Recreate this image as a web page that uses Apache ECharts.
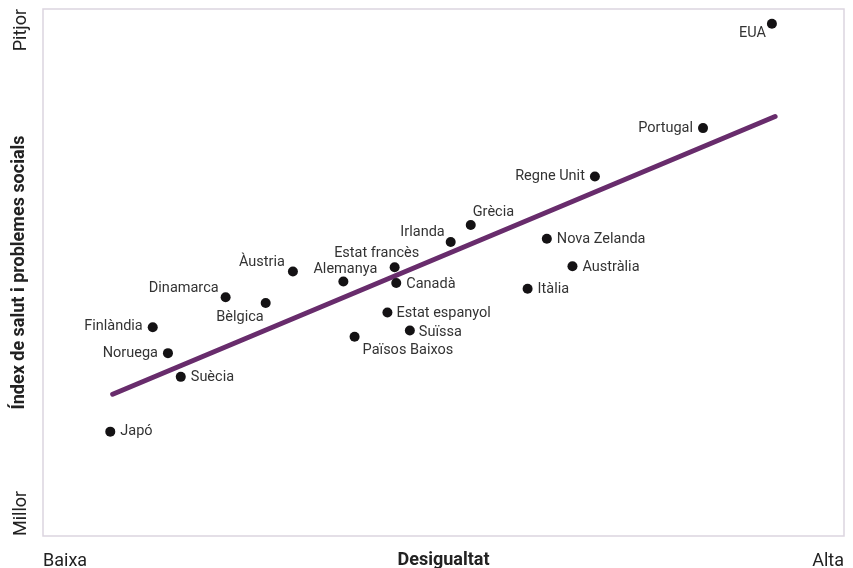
<!DOCTYPE html>
<html>
<head>
<meta charset="utf-8">
<script src="https://cdn.jsdelivr.net/npm/echarts@6/dist/echarts.min.js"></script>
<style>
html,body{margin:0;padding:0;background:#fff;}
#chart{width:853px;height:568px;}
</style>
</head>
<body>
<div id="chart"></div>
<script>
// Data (relative scale 0–100 on both axes)
var countries = ['EUA','Portugal','Regne Unit','Grècia','Irlanda','Nova Zelanda','Austràlia','Itàlia','Estat francès','Canadà','Alemanya','Àustria','Estat espanyol','Suïssa','Països Baixos','Bèlgica','Dinamarca','Finlàndia','Noruega','Suècia','Japó'];
var inequality = [91.0, 82.4, 68.9, 53.4, 50.9, 62.9, 66.1, 60.5, 43.9, 44.1, 37.5, 31.2, 43.0, 45.8, 38.9, 27.8, 22.8, 13.7, 15.6, 17.2, 8.4];
var healthIndex = [97.2, 77.4, 68.2, 59.0, 55.8, 56.4, 51.2, 46.9, 51.0, 48.0, 48.3, 50.2, 42.4, 39.0, 37.8, 44.2, 45.3, 39.6, 34.7, 30.2, 19.8];
var trendX = [8.7, 91.4];
var trendY = [26.9, 79.6];
var xTickLabels = ['Baixa', 'Alta'];
var yTickLabels = ['Millor', 'Pitjor'];

// label placement (offset from dot centre, px) — style only
var labelPlace = {
  'EUA': [-6, 10, 'right'],
  'Portugal': [-10, 0, 'right'],
  'Regne Unit': [-10, 0, 'right'],
  'Grècia': [2, -13, 'left'],
  'Irlanda': [-6, -10, 'right'],
  'Nova Zelanda': [10, 1, 'left'],
  'Austràlia': [10, 1, 'left'],
  'Itàlia': [10, 1, 'left'],
  'Estat francès': [-18, -14, 'center'],
  'Canadà': [10, 1, 'left'],
  'Alemanya': [2, -12, 'center'],
  'Àustria': [-8, -9, 'right'],
  'Estat espanyol': [9, 1, 'left'],
  'Suïssa': [9, 1.5, 'left'],
  'Països Baixos': [8, 14, 'left'],
  'Bèlgica': [-2, 14, 'right'],
  'Dinamarca': [-7, -9, 'right'],
  'Finlàndia': [-10, -1, 'right'],
  'Noruega': [-10, 0, 'right'],
  'Suècia': [10, 1, 'left'],
  'Japó': [10, 0, 'left']
};

var FONT = 'Roboto, "DejaVu Sans", sans-serif';
var SYM = 10;

var points = countries.map(function (c, i) {
  var p = labelPlace[c];
  return {
    name: c,
    value: [inequality[i], healthIndex[i]],
    label: {
      show: true,
      formatter: c,
      position: [SYM / 2 + p[0], SYM / 2 + p[1]],
      align: p[2],
      verticalAlign: 'middle'
    }
  };
});

var chart = echarts.init(document.getElementById('chart'), null, {renderer: 'canvas'});
chart.setOption({
  animation: false,
  backgroundColor: '#ffffff',
  grid: {
    left: 43, right: 9, top: 9, bottom: 32,
    containLabel: false, outerBoundsMode: 'none',
    show: true, borderColor: '#dcd5e0', borderWidth: 1.5, backgroundColor: 'transparent'
  },
  xAxis: {
    type: 'value', min: 0, max: 100, interval: 100,
    axisLine: {show: false}, axisTick: {show: false}, splitLine: {show: false},
    axisLabel: {
      margin: 25, fontSize: 18, color: '#222', fontFamily: FONT,
      verticalAlign: 'middle',
      alignMinLabel: 'left', alignMaxLabel: 'right',
      formatter: function (v) { return v === 0 ? xTickLabels[0] : xTickLabels[1]; }
    },
    name: 'Desigualtat', nameLocation: 'middle', nameGap: 24, nameMoveOverlap: false,
    nameTextStyle: {fontSize: 18, fontWeight: 'bold', color: '#222', fontFamily: FONT, verticalAlign: 'middle'}
  },
  yAxis: {
    type: 'value', min: 0, max: 100, interval: 100,
    axisLine: {show: false}, axisTick: {show: false}, splitLine: {show: false},
    axisLabel: {
      rotate: 90, margin: 22, fontSize: 18, color: '#222', fontFamily: FONT,
      verticalAlign: 'middle',
      alignMinLabel: 'left', alignMaxLabel: 'right',
      formatter: function (v) { return v === 0 ? yTickLabels[0] : yTickLabels[1]; }
    },
    name: 'Índex de salut i problemes socials', nameLocation: 'middle', nameGap: 24, nameMoveOverlap: false,
    nameTextStyle: {fontSize: 18, fontWeight: 'bold', color: '#222', fontFamily: FONT, verticalAlign: 'middle'}
  },
  series: [
    {
      type: 'line',
      data: [[trendX[0], trendY[0]], [trendX[1], trendY[1]]],
      symbol: 'none',
      lineStyle: {color: '#682c6c', width: 5, cap: 'round'},
      silent: true,
      z: 1
    },
    {
      type: 'scatter',
      data: points,
      symbol: 'circle',
      symbolSize: SYM,
      itemStyle: {color: '#141214', opacity: 1},
      label: {fontSize: 14.5, color: '#333', fontFamily: FONT},
      emphasis: {disabled: true},
      z: 2
    }
  ]
});
</script>
</body>
</html>
